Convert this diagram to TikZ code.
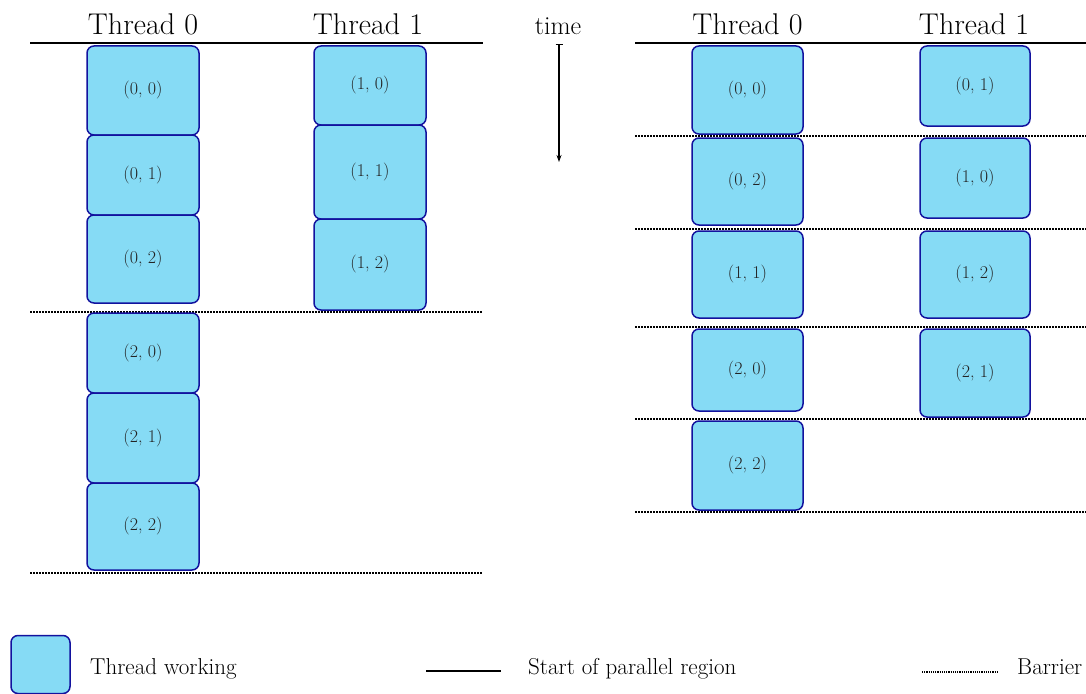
\documentclass[tikz,border=0pt]{standalone}
\usetikzlibrary{arrows.meta}
\definecolor{workfill}{RGB}{134,219,245}
\definecolor{workedge}{RGB}{18,18,158}
\definecolor{celltext}{RGB}{35,35,35}
\begin{document}
\begin{tikzpicture}[x=1pt,y=-1pt,
  work/.style={draw=workedge, fill=workfill, line width=1.5pt, rounded corners=7pt,
    inner sep=0pt, text=celltext, font=\fontsize{18}{20}\selectfont},
  head/.style={anchor=base, inner sep=0pt, font=\fontsize{30}{32}\selectfont},
  legtext/.style={anchor=base west, inner sep=0pt, font=\fontsize{23}{25}\selectfont},
  startline/.style={line width=1.5pt},
  barrier/.style={line width=1.5pt, dash pattern=on 1.5pt off 1.5pt},
  legbarrier/.style={line width=1.1pt, dash pattern=on 1.1pt off 1.1pt}]
\useasboundingbox (0,0) rectangle (1086,693);

% ---------- left schedule ----------
\coordinate (LsA) at (30,43);  \coordinate (LsB) at (483,43);
\coordinate (Lb1A) at (30,312); \coordinate (Lb1B) at (483,312);
\coordinate (Lb2A) at (30,573); \coordinate (Lb2B) at (483,573);
\draw[startline] (LsA) -- (LsB);
\draw[barrier] (Lb1A) -- (Lb1B);
\draw[barrier] (Lb2A) -- (Lb2B);

\node[head] (lh0) at (143,35) {Thread 0};
\node[head] (lh1) at (368,35) {Thread 1};

\node[work, minimum width=112pt, minimum height=89pt] (L00) at (143,90.5) {(0, 0)};
\node[work, minimum width=112pt, minimum height=80pt] (L01) at (143,175) {(0, 1)};
\node[work, minimum width=112pt, minimum height=88pt] (L02) at (143,259) {(0, 2)};
\node[work, minimum width=112pt, minimum height=80pt] (L20) at (143,353) {(2, 0)};
\node[work, minimum width=112pt, minimum height=90pt] (L21) at (143,438) {(2, 1)};
\node[work, minimum width=112pt, minimum height=87pt] (L22) at (143,526.5) {(2, 2)};

\node[work, minimum width=112pt, minimum height=79pt] (L10) at (370,85.5) {(1, 0)};
\node[work, minimum width=112pt, minimum height=94pt] (L11) at (370,172) {(1, 1)};
\node[work, minimum width=112pt, minimum height=91pt] (L12) at (370,264.5) {(1, 2)};

% ---------- time axis ----------
\node[head, font=\fontsize{26}{28}\selectfont] (time) at (558,35) {time};
\coordinate (tTop) at (559,44);
\coordinate (tBot) at (559,162);
\draw[line width=1.1pt, {Bar[width=7pt]}-{Stealth[length=7pt,width=5pt]}] (tTop) -- (tBot);

% ---------- right schedule ----------
\coordinate (RsA) at (635,43); \coordinate (RsB) at (1086,43);
\draw[startline] (RsA) -- (RsB);
\foreach \yy [count=\k] in {136,229,327,419,512} {
  \coordinate (Rb\k A) at (635,\yy);
  \coordinate (Rb\k B) at (1086,\yy);
  \draw[barrier] (Rb\k A) -- (Rb\k B);
}

\node[head] (rh0) at (747.5,35) {Thread 0};
\node[head] (rh1) at (974,35) {Thread 1};

\node[work, minimum width=111pt, minimum height=88pt] (R00) at (747.5,90) {(0, 0)};
\node[work, minimum width=111pt, minimum height=87pt] (R02) at (747.5,181.5) {(0, 2)};
\node[work, minimum width=111pt, minimum height=87pt] (R11) at (747.5,274.5) {(1, 1)};
\node[work, minimum width=111pt, minimum height=82pt] (R20) at (747.5,370) {(2, 0)};
\node[work, minimum width=111pt, minimum height=89pt] (R22) at (747.5,465.5) {(2, 2)};

\node[work, minimum width=110pt, minimum height=80pt] (R01) at (975,86) {(0, 1)};
\node[work, minimum width=110pt, minimum height=80pt] (R10) at (975,178) {(1, 0)};
\node[work, minimum width=110pt, minimum height=87pt] (R12) at (975,274.5) {(1, 2)};
\node[work, minimum width=110pt, minimum height=88pt] (R21) at (975,373) {(2, 1)};

% ---------- legend ----------
\node[work, minimum width=59pt, minimum height=58pt] (legbox) at (40.5,664.5) {};
\node[legtext] (legwork) at (90,674) {Thread working};
\coordinate (lsA) at (426,671); \coordinate (lsB) at (501,671);
\draw[startline] (lsA) -- (lsB);
\node[legtext] (legstart) at (528,674) {Start of parallel region};
\coordinate (lbA) at (922,672); \coordinate (lbB) at (997,672);
\draw[legbarrier] (lbA) -- (lbB);
\node[legtext] (legbar) at (1017,674) {Barrier};
\end{tikzpicture}
\end{document}
